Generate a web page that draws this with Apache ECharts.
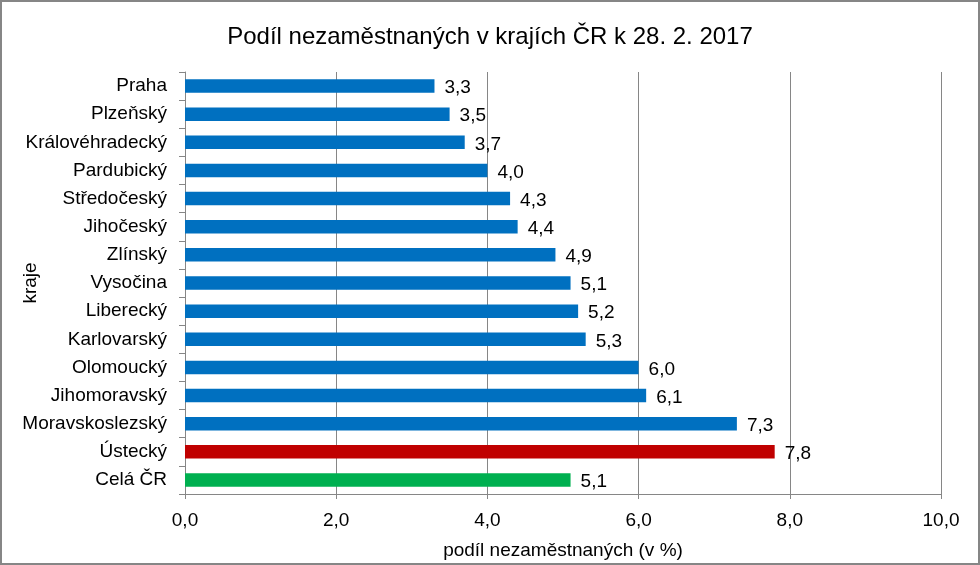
<!DOCTYPE html>
<html><head><meta charset="utf-8">
<script src="https://cdn.jsdelivr.net/npm/echarts@6/dist/echarts.min.js"></script>
<style>html,body{margin:0;padding:0;background:#fff}#c{width:980px;height:565px}</style>
</head><body><div id="c"></div>
<script>
var categories = ["Praha","Plzeňský","Královéhradecký","Pardubický","Středočeský","Jihočeský","Zlínský","Vysočina","Liberecký","Karlovarský","Olomoucký","Jihomoravský","Moravskoslezský","Ústecký","Celá ČR"];
var values = [3.3,3.5,3.7,4.0,4.3,4.4,4.9,5.1,5.2,5.3,6.0,6.1,7.3,7.8,5.1];
var barColors = ["#0070C0","#0070C0","#0070C0","#0070C0","#0070C0","#0070C0","#0070C0","#0070C0","#0070C0","#0070C0","#0070C0","#0070C0","#0070C0","#C00000","#00B050"];
var xTicks = {min:0, max:10, interval:2};
var fmt = function(v){ return Number(v).toFixed(1).replace('.', ','); };
var chart = echarts.init(document.getElementById('c'));
var FONT = '"Liberation Sans", Arial, sans-serif';
chart.setOption({
  animation:false,
  textStyle:{fontFamily:FONT},
  title:{text:"Podíl nezaměstnaných v krajích ČR k 28. 2. 2017", left:'center', top:20,
    textStyle:{fontFamily:FONT, fontSize:24, fontWeight:'normal', color:'#000'}},
  graphic:[{type:'rect', shape:{x:1,y:1,width:978,height:563}, style:{fill:'none', stroke:'#868686', lineWidth:2}, silent:true}],
  grid:{left:185, right:39, top:72, bottom:71, containLabel:false, outerBoundsMode:'none'},
  xAxis:{type:'value', min:xTicks.min, max:xTicks.max, interval:xTicks.interval,
    name:'podíl nezaměstnaných (v %)', nameLocation:'middle', nameGap:47, nameMoveOverlap:false,
    nameTextStyle:{fontFamily:FONT, fontSize:19, color:'#000'},
    axisLine:{show:true, lineStyle:{color:'#868686'}},
    axisTick:{show:true, length:5, lineStyle:{color:'#868686'}},
    axisLabel:{fontFamily:FONT, fontSize:19, color:'#000', margin:17, formatter:fmt},
    splitLine:{show:true, lineStyle:{color:'#868686'}}},
  yAxis:{type:'category', data:categories, inverse:true,
    name:'kraje', nameLocation:'middle', nameGap:145, nameRotate:90, nameMoveOverlap:false,
    nameTextStyle:{fontFamily:FONT, fontSize:19, color:'#000'},
    axisLine:{show:true, lineStyle:{color:'#868686'}},
    axisTick:{show:true, length:6, alignWithLabel:false, lineStyle:{color:'#868686'}},
    axisLabel:{fontFamily:FONT, fontSize:19, color:'#000', margin:18}},
  series:[{type:'bar', barWidth:'48%',
    data: values.map(function(v,i){ return {value:v, itemStyle:{color:barColors[i]}}; }),
    label:{show:true, position:'right', distance:10, offset:[0,2], fontFamily:FONT, fontSize:19, color:'#000',
      formatter:function(p){ return fmt(p.value); }}}]
});
</script></body></html>
